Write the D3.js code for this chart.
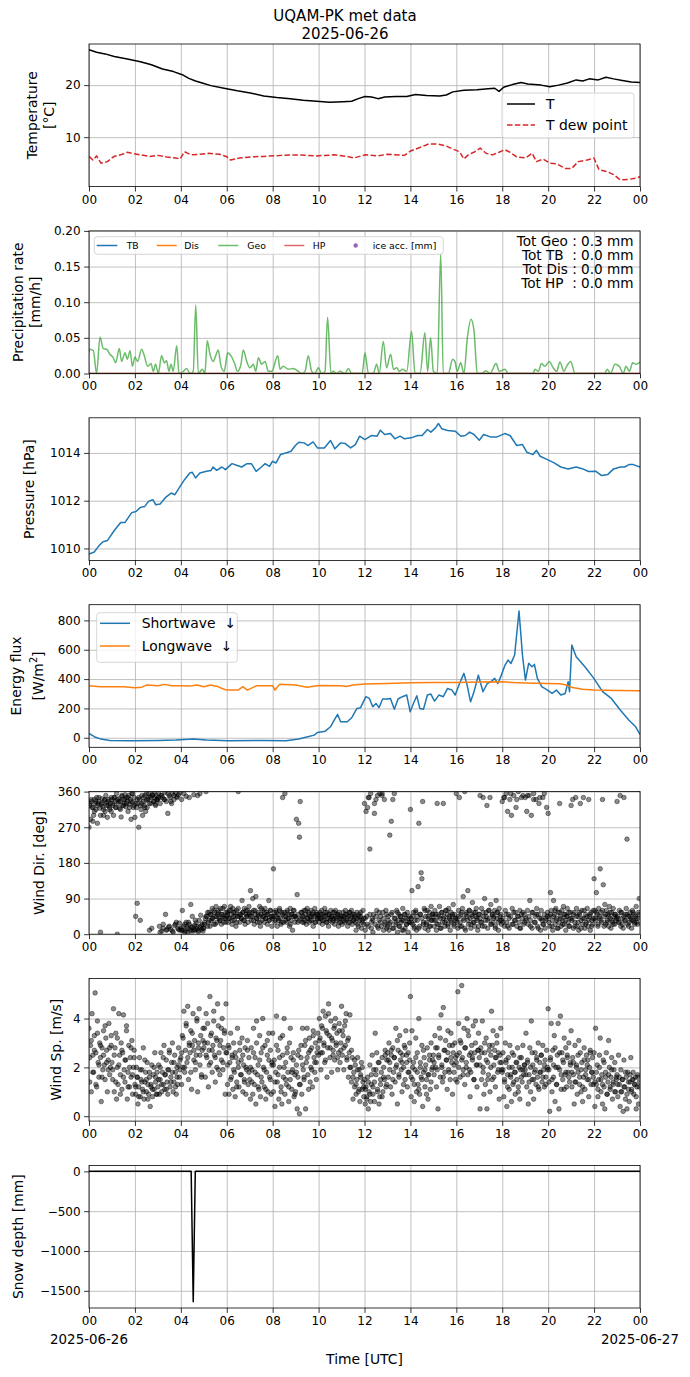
<!DOCTYPE html>
<html><head><meta charset="utf-8">
<script src="https://cdn.jsdelivr.net/npm/d3@7"></script>
<style>
body{margin:0;background:#fff}
svg text{font-family:"DejaVu Sans",sans-serif;fill:#000}
</style></head><body>
<svg id="c" width="690" height="1377"></svg>
<script>
// ---------------- DATA ----------------
const titleLines = ["UQAM-PK met data", "2025-06-26"];
const xTickHours = [0,2,4,6,8,10,12,14,16,18,20,22,24];
const dateLabels = ["2025-06-26", "2025-06-27"];

// Temperature panel
const tempTime = [0,0.33,0.7,1.1,1.67,2.24,2.72,3.2,3.68,4.06,4.35,4.64,4.93,5.31,5.88,6.46,7.03,7.61,8.18,8.76,9.33,9.91,10.48,11.06,11.44,11.73,12.02,12.31,12.59,12.88,13.36,13.84,14.22,14.7,15.28,15.56,15.85,16.33,16.9,17.39,17.67,17.86,18.06,18.44,18.82,19.11,19.69,20.07,20.45,20.84,21.22,21.51,21.79,22.18,22.52,22.85,23.23,23.62,24];
const tempValues = [26.8,26.3,26.0,25.5,25.0,24.5,23.9,23.1,22.6,22.0,21.3,20.8,20.4,19.9,19.4,18.9,18.5,17.9,17.6,17.4,17.1,16.9,16.7,16.8,16.9,17.4,17.8,17.7,17.4,17.7,17.8,17.8,18.2,18.0,17.9,18.1,18.7,19.0,19.1,19.3,19.4,18.8,19.6,20.1,20.5,20.2,20.0,19.7,20.0,20.4,21.0,20.8,21.2,21.0,21.5,21.2,20.9,20.6,20.5];
const dewTime = [0,0.17,0.33,0.52,0.8,1.09,1.38,1.67,1.96,2.24,2.63,3.01,3.39,3.78,3.97,4.16,4.45,4.83,5.21,5.69,5.98,6.17,6.56,7.03,7.61,8.38,9.14,9.91,10.68,11.25,11.54,12.02,12.59,12.98,13.74,14.03,14.41,14.8,15.18,15.56,15.85,16.14,16.33,16.52,16.81,17.04,17.29,17.58,17.86,18.11,18.34,18.63,19.02,19.3,19.49,19.78,20.07,20.36,20.74,21.03,21.31,21.7,21.99,22.22,22.56,22.85,23.14,23.52,23.81,24];
const dewValues = [6.3,5.6,6.4,5.0,5.3,6.3,6.6,7.1,6.8,6.6,6.3,6.5,6.2,6.0,5.8,7.2,6.6,6.7,6.9,6.7,6.3,5.6,6.0,6.2,6.3,6.5,6.6,6.4,6.6,6.3,6.0,6.6,6.4,6.7,6.5,7.4,8.0,8.7,8.7,8.3,7.7,7.2,5.8,6.6,7.2,7.9,6.9,6.6,7.1,7.6,7.1,6.2,6.0,6.9,5.3,5.8,5.0,4.9,4.0,4.0,5.3,5.6,6.0,3.7,3.4,2.8,1.8,1.9,2.1,2.4];
const tempTicks = [10, 20];

// Precipitation panel
const geoTime = [0,0.04,0.19,0.33,0.48,0.62,0.77,0.91,1.06,1.16,1.32,1.42,1.57,1.67,1.79,1.89,2.0,2.12,2.29,2.41,2.55,2.7,2.8,2.9,3.02,3.16,3.28,3.38,3.48,3.57,3.67,3.82,3.92,4.11,4.25,4.4,4.54,4.65,4.76,4.94,5.05,5.15,5.27,5.41,5.52,5.63,5.75,5.89,6.04,6.18,6.33,6.47,6.62,6.72,6.87,7.01,7.16,7.26,7.38,7.52,7.67,7.81,7.96,8.22,8.32,8.46,8.68,8.9,9.12,9.26,9.41,9.55,9.7,9.84,9.99,10.13,10.28,10.39,10.54,10.64,10.79,10.93,11.15,11.3,11.44,11.9,12.02,12.17,12.38,12.53,12.64,12.82,12.96,13.14,13.26,13.4,13.52,13.66,13.84,14.05,14.2,14.42,14.63,14.75,14.88,15.0,15.17,15.32,15.43,15.65,15.84,15.94,16.04,16.19,16.33,16.48,16.64,16.77,16.91,17.1,17.29,17.47,17.73,17.87,18.12,18.26,19.35,19.42,19.57,19.71,19.86,20.05,20.2,20.37,20.51,20.69,20.8,20.98,21.17,22.47,22.57,22.72,22.91,23.1,23.27,23.39,23.54,23.68,23.83,24.0];
const geoValues = [0.03,0.034,0.032,0.0,0.051,0.035,0.034,0.027,0.022,0.015,0.035,0.017,0.029,0.02,0.032,0.01,0.023,0.017,0.034,0.025,0.01,0.014,0.003,0.013,0.0,0.025,0.015,0.018,0.003,0.013,0.003,0.039,0.0,0.003,0.007,0.0,0.003,0.096,0.0,0.006,0.0,0.046,0.027,0.017,0.025,0.033,0.01,0.003,0.029,0.025,0.015,0.003,0.013,0.033,0.017,0.008,0.013,0.003,0.022,0.013,0.017,0.003,0.003,0.025,0.006,0.01,0.006,0.007,0.003,0.0,0.003,0.025,0.003,0.0,0.008,0.0,0.003,0.079,0.0,0.003,0.0,0.003,0.0,0.007,0.0,0.0,0.029,0.0,0.0,0.013,0.0,0.045,0.008,0.027,0.006,0.008,0.003,0.006,0.003,0.059,0.0,0.0,0.057,0.003,0.05,0.003,0.0,0.168,0.0,0.0,0.02,0.017,0.003,0.015,0.0,0.05,0.076,0.06,0.0,0.0,0.004,0.0,0.014,0.003,0.006,0.0,0.0,0.006,0.003,0.014,0.01,0.017,0.009,0.003,0.016,0.003,0.01,0.017,0.0,0.0,0.006,0.0,0.013,0.01,0.0,0.01,0.003,0.015,0.013,0.016];
const zeroTime = [0, 24];
const tbValues = [0, 0];
const disValues = [0, 0];
const hpValues = [0, 0];
const precipTicks = [0, 0.05, 0.10, 0.15, 0.20];
const precipTotals = ["Tot Geo : 0.3 mm", "Tot TB  : 0.0 mm", "Tot Dis : 0.0 mm", "Tot HP  : 0.0 mm"];
const precipLegend = ["TB", "Dis", "Geo", "HP", "ice acc. [mm]"];

// Pressure panel
const presTime = [0,0.23,0.42,0.61,0.8,1.1,1.38,1.57,1.86,2.05,2.24,2.43,2.59,2.78,2.91,3.1,3.35,3.58,3.74,3.97,4.16,4.39,4.5,4.64,4.83,5.12,5.31,5.4,5.56,5.79,5.94,6.23,6.46,6.65,6.88,7.07,7.28,7.51,7.67,7.86,7.99,8.15,8.34,8.57,8.8,8.99,9.14,9.37,9.53,9.76,9.95,10.25,10.52,10.71,10.96,11.16,11.4,11.6,11.79,12.02,12.31,12.55,12.69,12.88,13.13,13.32,13.55,13.74,14.03,14.32,14.51,14.74,14.89,15.09,15.22,15.37,15.62,15.95,16.2,16.39,16.58,16.77,17.0,17.19,17.48,17.77,18.11,18.34,18.63,18.88,19.07,19.34,19.49,19.65,19.97,20.26,20.55,20.87,21.22,21.51,21.76,22.08,22.33,22.6,22.85,23.14,23.33,23.52,23.71,24];
const presValues = [1009.77,1009.85,1010.1,1010.28,1010.33,1010.75,1011.09,1011.09,1011.5,1011.55,1011.72,1011.76,1011.97,1012.04,1011.83,1011.86,1012.15,1012.32,1012.25,1012.6,1012.88,1013.16,1013.19,1012.95,1013.16,1013.23,1013.26,1013.41,1013.27,1013.41,1013.3,1013.55,1013.47,1013.41,1013.55,1013.55,1013.23,1013.41,1013.55,1013.44,1013.65,1013.58,1013.93,1014.0,1014.07,1014.31,1014.45,1014.42,1014.31,1014.46,1014.21,1014.21,1014.52,1014.17,1014.42,1014.39,1014.21,1014.35,1014.7,1014.56,1014.73,1014.7,1014.95,1014.77,1014.81,1014.59,1014.7,1014.59,1014.63,1014.73,1014.73,1014.98,1014.87,1015.05,1015.23,1015.01,1014.94,1014.91,1014.7,1014.73,1014.87,1014.77,1014.53,1014.77,1014.67,1014.67,1014.81,1014.73,1014.31,1014.35,1014.03,1013.93,1014.11,1013.86,1013.72,1013.58,1013.41,1013.33,1013.41,1013.33,1013.22,1013.23,1013.05,1013.1,1013.33,1013.41,1013.41,1013.51,1013.51,1013.41];
const presTicks = [1010, 1012, 1014];

// Energy flux panel
const swTime = [0,0.23,0.52,0.9,1.86,3.0,3.78,4.54,5.12,6.08,7.61,8.57,9.14,9.53,9.81,9.95,10.29,10.52,10.68,10.83,10.96,11.25,11.44,11.67,11.83,12.06,12.21,12.36,12.5,12.63,12.79,12.98,13.13,13.3,13.46,13.65,13.84,13.99,14.13,14.28,14.41,14.57,14.74,14.89,15.05,15.24,15.43,15.62,15.81,15.95,16.14,16.33,16.47,16.62,16.77,16.96,17.16,17.35,17.54,17.67,17.81,17.96,18.11,18.25,18.38,18.54,18.73,18.88,19.01,19.15,19.3,19.4,19.53,19.72,19.97,20.17,20.36,20.55,20.74,20.87,20.93,21.03,21.22,21.6,21.99,22.37,22.75,23.14,23.52,23.81,24];
const swValues = [30,7,-9,-18,-20,-19,-16,-9,-16,-20,-18,-20,-9,7,18,36,45,75,120,159,109,109,136,200,205,280,268,211,234,205,264,264,268,195,264,280,291,177,234,286,200,195,291,298,250,291,280,336,325,291,370,439,359,245,314,427,314,370,386,405,370,427,491,530,507,564,864,564,393,507,484,500,405,348,325,302,325,291,302,382,314,632,552,484,405,314,268,189,120,75,23];
const lwTime = [0,0.5,1.5,2,2.3,2.5,3,3.3,3.6,4,4.4,4.7,5,5.3,5.6,5.8,6,6.5,6.7,6.9,7.3,8,8.1,8.3,9,9.5,10,11,11.2,11.5,12,13,14,15,16,17,18,18.5,19,20,20.5,20.8,21,21.5,22,23,24];
const lwValues = [355,348,348,341,345,359,355,364,355,355,352,359,348,359,350,336,325,325,348,325,355,355,325,364,359,345,356,355,350,359,366,370,375,377,377,380,382,376,373,370,368,360,345,330,326,322,320];
const fluxTicks = [0, 200, 400, 600, 800];
const fluxLegend = ["Shortwave  \u2193", "Longwave  \u2193"];

// Wind direction (deg): samples per hour, one row per hour (main + interleaved readings)
const windDirByHour = [
[270,325,290,335,320,285,300,340,330,315,345,280,330,335,318,5,328,342,322,300,338,310,350,332,295,325,340,315,330,345],
[340,325,300,345,335,320,355,0,330,342,318,336,296,348,325,340,330,352,322,345,335,310,350,328,340,290,355,333,320,345],
[295,45,320,78,330,270,340,35,315,330,300,345,325,350,310,338,320,342,355,10,348,330,15,352,335,358,345,328,350,340],
[340,355,20,330,350,8,345,25,340,358,50,335,12,305,18,350,345,12,330,355,5,340,22,358,30,348,15,352,28,10],
[15,340,60,10,355,25,8,348,20,5,30,345,12,75,18,45,8,352,22,10,28,14,350,6,35,18,48,12,25,8],
[15,25,40,360,45,20,30,55,20,50,35,65,40,25,55,45,70,30,50,60,40,35,65,25,50,45,30,70,40,55],
[45,55,30,60,40,70,50,25,65,45,35,55,20,60,45,360,45,30,50,40,85,55,35,65,25,50,45,60,30,70],
[55,110,35,45,90,60,25,50,95,40,30,55,45,70,20,50,35,60,45,30,65,40,55,25,50,85,35,60,45,20],
[40,165,55,30,60,45,20,50,35,65,40,25,55,345,30,55,355,45,30,60,40,50,20,65,35,50,10,45,60,30],
[45,290,100,30,280,245,335,40,55,30,45,60,35,50,25,65,40,55,30,45,60,35,50,20,45,65,30,55,40,50],
[45,30,55,40,60,25,50,35,65,45,30,55,40,20,50,35,60,45,30,55,40,25,60,45,35,50,20,55,40,30],
[40,25,55,45,30,60,35,50,20,45,55,30,40,60,25,50,35,45,30,10,55,40,20,50,35,45,15,30,60,25],
[330,10,310,45,320,20,345,215,355,30,40,5,50,305,25,340,60,350,15,35,355,45,20,350,55,10,340,30,60,15],
[20,45,10,250,30,285,55,340,15,355,40,25,60,5,35,50,20,45,30,10,65,35,50,15,40,25,55,5,30,45],
[315,40,110,25,55,15,35,60,10,45,120,280,20,50,155,140,335,30,65,15,45,25,60,10,40,55,20,70,35,50],
[45,20,60,35,10,330,50,25,70,40,15,55,30,330,45,20,60,35,50,25,65,40,10,55,30,45,75,20,50,35],
[355,40,15,60,345,30,50,20,65,95,35,360,10,55,45,110,25,60,40,15,50,80,30,55,20,45,65,35,10,50],
[50,350,30,65,20,345,45,90,35,55,325,15,60,40,345,75,25,50,30,45,60,20,85,40,55,10,65,35,50,25],
[335,40,345,20,60,355,30,310,50,15,340,45,300,65,25,350,35,55,320,20,45,360,30,60,15,345,40,55,25,50],
[345,40,310,60,25,350,85,35,300,15,55,355,30,45,340,65,20,50,330,40,10,60,35,345,25,50,15,40,320,55],
[305,45,20,105,60,35,10,85,50,25,65,40,15,55,30,330,45,20,60,35,70,25,50,10,45,65,30,55,20,40],
[325,40,340,15,55,30,345,65,20,45,10,50,330,35,60,25,345,40,15,50,30,65,20,340,45,10,55,35,25,60],
[140,60,35,105,50,20,65,40,165,55,30,340,125,45,75,25,60,35,50,20,70,40,15,55,30,65,45,25,50,35],
[335,45,30,60,350,20,55,40,15,345,35,50,65,240,25,45,30,55,40,15,60,35,50,25,45,70,30,40,55,90]
];
const windDirExtraByHour = [
[330,340,320,310,335,325,345,300,330,315,340,325,335,320,310],
[330,345,320,340,335,315,350,325,340,330,345,320,335,355,325],
[330,340,345,325,350,335,320,355,340,330,345,350,335,325,340],
[345,5,350,15,340,10,355,20,335,8,350,25,345,12,358],
[10,20,5,30,15,25,8,18,12,35,20,10,355,22,15],
[30,45,55,35,50,40,60,25,45,55,35,50,65,40,30],
[50,40,60,35,55,45,30,65,50,40,55,35,60,45,50],
[45,55,35,60,40,50,30,65,45,55,40,50,35,60,45],
[45,35,55,40,60,30,50,45,35,55,40,25,50,60,45],
[40,50,35,55,45,30,60,40,50,35,45,55,30,50,40],
[40,50,35,45,55,30,50,40,45,35,55,40,50,30,45],
[45,35,50,40,30,55,45,35,50,40,25,45,55,35,40],
[40,25,345,50,15,35,330,45,20,55,30,355,40,25,50],
[35,25,50,15,40,30,55,20,45,35,10,50,25,40,30],
[30,45,20,55,35,15,50,40,25,60,30,45,20,35,50],
[35,50,25,45,15,55,40,30,60,20,45,35,50,25,40],
[30,45,20,55,40,15,50,35,60,25,45,30,55,40,20],
[40,30,55,20,45,35,60,25,50,40,15,55,30,45,35],
[30,345,50,20,40,355,25,55,35,340,45,15,50,350,30],
[35,350,45,20,55,340,30,50,15,345,40,25,355,35,45],
[30,50,20,45,60,35,15,55,40,25,50,35,45,20,55],
[35,50,20,45,30,55,15,40,60,25,45,35,50,20,40],
[40,55,25,45,35,60,20,50,30,45,55,35,25,50,40],
[40,30,55,25,45,35,50,20,45,35,55,30,40,25,50]
];
const windDirTicks = [0, 90, 180, 270, 360];

// Wind speed (m/s): samples per hour, one row per hour (main + interleaved readings)
const windSpByHour = [
[3.6,1.4,2.9,1.0,4.2,2.5,1.8,3.3,5.05,2.6,1.2,3.9,2.2,1.6,3.0,2.4,0.6,2.8,1.9,3.5,2.1,1.5,3.2,2.7,1.0,2.3,3.8,1.7,2.0,2.9],
[2.2,1.5,4.4,1.0,2.8,3.4,0.7,2.0,1.3,4.2,2.5,1.7,3.0,1.1,2.6,4.15,1.9,1.4,2.3,3.7,0.7,1.8,2.9,1.2,2.4,1.6,3.1,0.9,2.0,2.7],
[1.3,0.9,2.0,1.6,0.5,1.2,2.4,0.8,1.5,1.9,1.1,2.8,0.7,1.4,1.8,1.0,2.2,1.3,0.9,1.6,0.4,1.2,2.1,0.8,1.7,1.1,2.6,1.4,0.9,1.8],
[1.2,2.1,0.9,1.5,2.6,1.0,1.8,1.3,2.9,1.1,1.7,2.3,1.4,0.9,1.9,2.7,1.2,1.6,2.2,3.0,1.0,1.4,2.5,1.8,0.9,2.0,1.3,2.8,1.6,2.3],
[2.4,1.3,3.3,2.0,4.3,1.8,2.7,3.8,2.2,4.5,1.5,3.0,2.6,3.5,1.1,2.9,4.2,2.3,3.1,1.9,2.5,3.9,1.0,2.8,4.4,2.1,3.3,1.6,2.7,3.6],
[2.8,3.6,1.6,4.2,2.4,3.0,1.2,2.7,4.9,2.2,3.4,1.8,2.9,3.9,2.5,1.4,3.2,2.0,4.6,3.7,2.6,1.7,3.1,2.3,4.0,1.9,2.8,3.5,0.9,4.6],
[2.6,1.3,2.9,0.9,2.2,3.4,1.6,2.5,1.1,3.0,1.8,0.8,2.4,1.4,3.6,2.0,1.2,2.7,1.7,2.3,3.2,1.0,2.1,1.5,2.8,0.9,1.9,3.1,1.3,2.4],
[1.5,0.7,2.8,1.9,0.9,3.6,1.3,2.4,0.5,3.9,1.7,2.1,1.1,3.3,0.8,2.6,1.4,4.0,2.0,1.2,2.9,0.7,1.8,3.1,1.0,2.3,1.6,2.7,0.9,2.2],
[3.4,1.0,2.3,0.4,1.8,4.1,1.4,2.7,0.7,2.0,3.2,1.2,0.5,2.5,1.6,4.0,0.9,2.2,1.3,2.8,1.8,0.6,3.0,1.5,2.4,1.1,1.9,2.6,0.8,1.7],
[1.0,2.1,0.3,1.6,2.7,0.1,1.3,2.4,0.9,3.6,1.9,1.5,2.9,0.3,2.2,3.6,1.7,2.6,3.2,1.4,2.0,2.8,1.2,3.5,2.4,1.8,3.0,2.2,2.6,3.4],
[2.5,4.0,3.2,1.9,3.7,2.6,4.3,3.0,2.2,4.1,3.5,1.6,2.8,4.6,3.3,2.4,3.9,1.8,3.1,2.7,3.6,2.3,4.0,2.9,3.4,1.9,2.6,3.8,2.2,3.0],
[4.5,2.5,3.3,1.9,3.7,2.9,4.2,2.3,3.1,1.6,2.6,4.15,2.0,1.4,2.4,0.7,1.8,1.2,2.1,0.9,1.5,2.4,1.0,1.9,0.6,1.6,2.2,1.1,1.4,0.8],
[1.5,0.5,1.2,0.8,1.6,0.3,1.0,2.1,0.6,1.3,2.5,0.9,1.9,1.4,3.4,1.7,2.6,1.1,2.2,0.5,0.8,1.3,1.8,2.4,1.0,2.0,1.5,2.7,1.2,2.3],
[2.6,1.6,3.0,2.2,1.2,2.5,0.9,2.8,1.8,2.4,1.4,3.6,2.1,0.5,2.7,1.6,3.3,2.3,1.9,1.0,2.5,2.0,2.9,1.5,3.5,2.2,1.2,2.6,1.8,3.0],
[4.9,0.8,3.5,1.5,2.2,0.6,1.9,3.2,1.0,2.6,1.3,4.0,0.9,2.0,1.6,2.9,0.4,1.8,2.4,1.2,2.1,1.5,2.8,0.7,1.7,2.5,1.1,3.0,1.9,2.3],
[2.5,1.7,3.3,2.0,1.2,2.8,0.3,2.4,3.6,1.6,4.15,2.1,1.4,4.45,2.7,1.8,3.1,2.3,1.1,2.6,1.9,2.9,1.5,3.4,2.2,0.9,2.6,1.8,3.0,2.4],
[2.2,1.4,5.1,3.8,2.6,1.6,3.0,5.35,2.4,1.9,3.6,1.3,2.8,2.0,4.0,1.7,3.3,2.5,0.8,1.8,2.9,2.3,3.7,1.5,2.6,3.9,2.1,1.2,2.7,3.4],
[2.4,0.3,2.8,1.5,3.9,2.0,0.9,2.6,1.3,3.2,0.3,2.2,1.7,2.9,1.0,2.5,4.3,1.5,3.5,2.1,2.7,1.2,2.4,3.0,1.8,2.6,0.7,2.2,3.6,1.9],
[1.8,2.6,0.8,1.4,3.0,2.2,0.4,1.7,2.4,1.1,2.9,1.6,0.6,2.0,1.3,2.5,1.8,0.9,2.2,1.5,2.8,1.2,2.0,0.7,1.9,2.4,1.4,2.9,1.7,2.1],
[1.9,3.4,1.2,2.3,0.5,1.7,2.8,1.0,3.9,1.5,2.1,0.7,1.8,2.6,1.3,2.4,1.6,3.0,1.1,2.2,1.8,2.5,1.4,2.9,1.9,1.2,2.3,1.6,2.7,2.0],
[4.4,1.4,0.2,2.3,3.8,1.0,2.7,1.6,3.3,0.6,2.0,1.3,2.5,3.8,0.3,1.9,4.1,1.1,2.6,1.5,2.2,3.2,1.7,2.8,1.2,2.4,1.8,3.0,1.4,2.1],
[3.5,1.2,2.4,1.7,0.5,2.9,1.4,2.1,0.9,1.8,3.1,1.3,2.6,1.0,2.2,0.6,1.6,2.8,1.1,1.9,2.5,1.5,2.3,0.8,2.0,2.7,1.3,1.8,2.4,1.6],
[2.6,0.4,3.6,1.3,2.1,0.8,1.5,2.5,3.2,1.0,1.7,0.5,2.3,1.2,0.3,1.8,2.6,0.9,1.4,3.1,2.0,1.1,1.6,2.4,0.7,1.3,1.9,2.2,1.0,1.5],
[1.7,0.8,2.5,1.3,0.4,1.9,1.0,1.5,0.2,2.3,1.2,0.7,1.6,0.3,1.8,1.1,0.6,1.4,2.4,1.0,1.5,1.8,0.9,1.3,1.6,0.3,1.2,1.7,0.5,1.4]
];
const windSpExtraByHour = [
[2.4,3.1,1.8,2.7,1.3,3.4,2.1,2.9,1.6,2.5,3.7,2.2,1.9,2.8,3.3],
[1.9,2.5,1.4,3.2,2.1,0.9,2.7,1.6,2.3,3.5,1.2,2.0,2.8,1.7,2.4],
[1.2,1.6,0.8,1.9,1.4,1.0,2.3,1.5,0.7,1.8,1.3,1.1,2.0,1.6,0.9],
[1.5,2.0,1.3,2.4,1.7,1.1,1.9,2.6,1.4,1.8,2.2,1.2,1.6,2.1,1.9],
[2.6,3.2,2.0,3.7,2.4,2.9,1.8,3.4,2.7,2.2,4.0,3.0,2.5,1.7,3.1],
[3.0,2.5,3.8,2.1,3.3,2.7,4.3,2.4,3.1,1.9,2.9,3.6,2.2,3.4,2.6],
[2.1,2.8,1.5,2.4,1.9,2.6,1.2,2.2,3.0,1.7,2.5,1.4,2.0,2.7,1.8],
[2.0,1.4,2.6,1.8,3.0,1.2,2.3,1.6,2.8,1.9,1.1,2.5,3.4,1.5,2.1],
[2.1,1.4,2.9,1.7,2.4,1.0,3.3,2.0,1.5,2.6,1.2,3.6,1.8,2.3,0.9],
[1.8,2.5,1.3,2.9,2.1,1.6,3.1,2.4,1.1,2.7,1.9,3.3,2.2,1.5,2.8],
[3.1,2.6,3.6,2.9,2.3,3.4,4.2,2.8,3.2,2.5,3.7,3.0,2.4,3.5,2.7],
[3.5,2.8,3.9,2.4,3.2,2.0,2.7,1.6,2.3,1.3,1.9,1.1,1.7,2.0,1.2],
[1.1,0.7,1.4,0.9,1.7,1.2,0.6,1.9,1.0,2.2,1.5,0.8,1.6,2.5,1.3],
[2.3,1.9,2.7,1.5,2.4,2.0,3.1,1.7,2.6,2.2,1.3,2.8,2.5,1.8,2.3],
[1.6,2.0,1.3,2.4,1.8,1.1,2.2,1.5,2.7,1.9,0.9,1.7,2.3,1.4,2.0],
[2.2,2.8,1.9,2.5,3.2,2.0,1.6,2.7,2.3,3.5,1.8,2.4,2.9,2.1,1.5],
[2.5,2.0,3.1,2.3,1.7,2.8,2.2,3.5,1.9,2.6,2.4,1.5,3.0,2.1,2.7],
[2.1,2.6,1.8,3.0,2.3,1.5,2.7,2.0,2.9,1.6,2.4,3.3,1.9,2.5,2.2],
[1.9,1.5,2.3,1.2,2.0,1.7,2.6,1.4,1.8,2.2,1.0,2.4,1.6,1.9,2.1],
[1.7,2.2,1.4,2.0,2.6,1.5,1.9,2.3,1.2,1.8,2.5,1.6,2.1,1.3,1.9],
[1.9,2.4,1.5,2.1,2.8,1.3,2.0,2.6,1.7,2.3,1.1,1.8,2.5,1.6,2.2],
[1.8,2.2,1.4,2.0,2.5,1.6,1.9,1.2,2.3,1.7,2.1,1.5,2.6,1.8,1.3],
[1.4,1.8,1.1,2.0,1.5,1.3,2.2,1.6,0.9,1.7,1.2,1.9,1.4,1.0,1.6],
[1.3,1.6,1.0,1.5,1.2,1.8,0.9,1.4,1.7,1.1,1.5,1.3,0.8,1.6,1.2]
];
const windSpTicks = [0, 2, 4];

// Snow depth panel
const snowTime = [0, 4.45, 4.54, 4.63, 24];
const snowValues = [0, 0, -1637, 0, 0];
const snowTicks = [-1500, -1000, -500, 0];

// ---------------- DRAWING ----------------
const C = {blue:"#1f77b4", orange:"#ff7f0e", green:"#2ca02c", red:"#d62728", purple:"#9467bd", grid:"#b0b0b0"};
const TICK_FS = 12, LABEL_FS = 13.9;
const svg = d3.select("#c");
const X0 = 89, X1 = 640, PT = 44, PSTEP = 186.9, PH = 142.6;
const x = d3.scaleLinear().domain([0, 24]).range([X0, X1]);
const xFmt = h => h === 24 ? "00" : d3.format("02d")(h);
const pairs = (t, v) => d3.range(Math.min(t.length, v.length)).map(i => [t[i], v[i]]);
const byHour = (rows, off) => rows.flatMap((row, h) => row.map((v, k) => [h + (k + off) / row.length, v]));

function panel(i, yDomain, yTicks) {
  const top = PT + i * PSTEP, bot = top + PH;
  const y = d3.scaleLinear().domain(yDomain).range([bot, top]);
  const id = "clip" + i;
  svg.append("clipPath").attr("id", id).append("rect")
    .attr("x", X0).attr("y", top).attr("width", X1 - X0).attr("height", PH);
  const gx = svg.append("g").attr("transform", `translate(0,${bot})`)
    .call(d3.axisBottom(x).tickValues(xTickHours).tickSize(-PH).tickFormat(""));
  const gy = svg.append("g").attr("transform", `translate(${X0},0)`)
    .call(d3.axisLeft(y).tickValues(yTicks).tickSize(-(X1 - X0)).tickFormat(""));
  [gx, gy].forEach(g => { g.select(".domain").remove(); g.selectAll("line").attr("stroke", C.grid).attr("stroke-width", 0.8); });
  const data = svg.append("g").attr("clip-path", `url(#${id})`);
  return {i, y, top, bot, data};
}

function axes(p, yTicks, yFmt) {
  const ax = svg.append("g").attr("transform", `translate(0,${p.bot})`)
    .call(d3.axisBottom(x).tickValues(xTickHours).tickFormat(xFmt).tickSize(4.9).tickPadding(3.5));
  const ay = svg.append("g").attr("transform", `translate(${X0},0)`)
    .call(d3.axisLeft(p.y).tickValues(yTicks).tickFormat(yFmt).tickSize(4.9).tickPadding(3.5));
  [ax, ay].forEach(g => {
    g.attr("font-family", null).attr("font-size", null);
    g.select(".domain").remove();
    g.selectAll("line").attr("stroke", "#000").attr("stroke-width", 0.8);
    g.selectAll("text").attr("font-size", TICK_FS);
  });
  svg.append("rect").attr("x", X0).attr("y", p.top).attr("width", X1 - X0).attr("height", PH)
    .attr("fill", "none").attr("stroke", "#000").attr("stroke-width", 0.8);
}

function ylabel(p, lines, xs) {
  const cy = (p.top + p.bot) / 2;
  lines.forEach((ln, k) => {
    const t = svg.append("text").attr("transform", `translate(${xs[k]},${cy}) rotate(-90)`)
      .attr("text-anchor", "middle").attr("dominant-baseline", "central").attr("font-size", LABEL_FS);
    if (typeof ln === "string") t.text(ln);
    else ln(t);
  });
}

function line(p, d, color, width, opts = {}) {
  const gen = d3.line().x(v => x(v[0])).y(v => p.y(v[1]));
  if (opts.curve) gen.curve(opts.curve);
  const path = p.data.append("path").datum(d).attr("d", gen).attr("fill", "none")
    .attr("stroke", color).attr("stroke-width", width).attr("stroke-linejoin", "round");
  if (opts.dash) path.attr("stroke-dasharray", opts.dash);
  if (opts.opacity) path.attr("stroke-opacity", opts.opacity);
  return path;
}

function scatter(p, pts) {
  p.data.append("g").selectAll("circle").data(pts).join("circle")
    .attr("cx", d => x(d[0])).attr("cy", d => p.y(d[1])).attr("r", 2.3)
    .attr("fill", "#000").attr("fill-opacity", 0.45)
    .attr("stroke", "#000").attr("stroke-opacity", 0.45).attr("stroke-width", 0.9);
}

function legendBox(x0, y0, w, h) {
  svg.append("rect").attr("x", x0).attr("y", y0).attr("width", w).attr("height", h).attr("rx", 3)
    .attr("fill", "#fff").attr("fill-opacity", 0.8).attr("stroke", "#cccccc").attr("stroke-width", 0.8);
}

// Title (figure-centred)
titleLines.forEach((t, k) => svg.append("text").attr("x", 345).attr("y", 16 + k * 17.5)
  .attr("text-anchor", "middle").attr("dominant-baseline", "central").attr("font-size", 15).text(t));

// Panel 1: temperature
{
  const p = panel(0, [0.5, 27.9], tempTicks);
  line(p, pairs(tempTime, tempValues), "#000", 1.5);
  line(p, pairs(dewTime, dewValues), C.red, 1.5, {dash: "5.5,2.4"});
  axes(p, tempTicks, d3.format("d"));
  ylabel(p, ["Temperature", "[°C]"], [31.7, 48.5]);
  legendBox(502, 93, 132, 45);
  svg.append("line").attr("x1", 507).attr("x2", 535).attr("y1", 104).attr("y2", 104).attr("stroke", "#000").attr("stroke-width", 1.5);
  svg.append("line").attr("x1", 507).attr("x2", 535).attr("y1", 125).attr("y2", 125).attr("stroke", C.red).attr("stroke-width", 1.5).attr("stroke-dasharray", "5.5,2.4");
  svg.append("text").attr("x", 546).attr("y", 104).attr("dominant-baseline", "central").attr("font-size", LABEL_FS).text("T");
  svg.append("text").attr("x", 546).attr("y", 125).attr("dominant-baseline", "central").attr("font-size", LABEL_FS).text("T dew point");
}

// Panel 2: precipitation
{
  const p = panel(1, [0, 0.2], precipTicks);
  line(p, pairs(zeroTime, tbValues), C.blue, 1.5, {opacity: 0.7});
  line(p, pairs(zeroTime, disValues), C.orange, 1.5, {opacity: 0.7});
  line(p, pairs(geoTime, geoValues), C.green, 1.5, {opacity: 0.7, curve: d3.curveMonotoneX});
  line(p, pairs(zeroTime, hpValues), C.red, 1.5, {opacity: 0.7});
  axes(p, precipTicks, d3.format(".2f"));
  ylabel(p, ["Precipitation rate", "[mm/h]"], [17.6, 35.2]);
  precipTotals.forEach((t, k) => svg.append("text").attr("x", 633.5).attr("y", 240.5 + k * 14)
    .attr("text-anchor", "end").attr("dominant-baseline", "central").attr("font-size", 13.6)
    .attr("xml:space", "preserve").style("white-space", "pre").text(t));
  legendBox(94.3, 236.7, 349, 17.6);
  const ly = 245.5;
  const cols = [C.blue, C.orange, C.green, C.red];
  const lx = [[96.7, 117.3, 126.7], [156.7, 176.7, 184.3], [218.3, 238.3, 247.3], [284.3, 304.3, 312.7]];
  lx.forEach((a, k) => {
    svg.append("line").attr("x1", a[0]).attr("x2", a[1]).attr("y1", ly).attr("y2", ly)
      .attr("stroke", cols[k]).attr("stroke-width", 1.5).attr("stroke-opacity", k >= 2 ? 0.7 : 1);
    svg.append("text").attr("x", a[2]).attr("y", ly).attr("dominant-baseline", "central").attr("font-size", 9.3).text(precipLegend[k]);
  });
  svg.append("circle").attr("cx", 355.7).attr("cy", ly).attr("r", 2.2).attr("fill", C.purple);
  svg.append("text").attr("x", 372.7).attr("y", ly).attr("dominant-baseline", "central").attr("font-size", 9.3).text(precipLegend[4]);
}

// Panel 3: pressure
{
  const p = panel(2, [1009.5, 1015.47], presTicks);
  line(p, pairs(presTime, presValues), C.blue, 1.5);
  axes(p, presTicks, d3.format("d"));
  ylabel(p, ["Pressure [hPa]"], [28.6]);
}

// Panel 4: energy flux
{
  const p = panel(3, [-65, 907], fluxTicks);
  line(p, pairs(swTime, swValues), C.blue, 1.5);
  line(p, pairs(lwTime, lwValues), C.orange, 1.5);
  axes(p, fluxTicks, d3.format("d"));
  ylabel(p, ["Energy flux", t => {
    t.append("tspan").text("[W/m");
    t.append("tspan").attr("font-size", 9.7).attr("dy", -5).text("2");
    t.append("tspan").attr("dy", 5).text("]");
  }], [15.8, 37.5]);
  legendBox(96.7, 612.7, 140.6, 49.6);
  [[623.3, C.blue], [646, C.orange]].forEach((r, k) => {
    svg.append("line").attr("x1", 100).attr("x2", 130).attr("y1", r[0]).attr("y2", r[0]).attr("stroke", r[1]).attr("stroke-width", 1.5);
    svg.append("text").attr("x", 141.7).attr("y", r[0]).attr("dominant-baseline", "central")
      .attr("font-size", LABEL_FS).attr("xml:space", "preserve").style("white-space", "pre").text(fluxLegend[k]);
  });
}

// Panel 5: wind direction
{
  const p = panel(4, [0, 360], windDirTicks);
  scatter(p, byHour(windDirByHour, 0).concat(byHour(windDirExtraByHour, 0.5)));
  axes(p, windDirTicks, d3.format("d"));
  ylabel(p, ["Wind Dir. [deg]"], [38.8]);
}

// Panel 6: wind speed
{
  const p = panel(5, [-0.2, 5.64], windSpTicks);
  scatter(p, byHour(windSpByHour, 0).concat(byHour(windSpExtraByHour, 0.5)));
  axes(p, windSpTicks, d3.format("d"));
  ylabel(p, ["Wind Sp. [m/s]"], [56.4]);
}

// Panel 7: snow depth
{
  const p = panel(6, [-1716, 75], snowTicks);
  line(p, pairs(snowTime, snowValues), "#000", 1.5);
  axes(p, snowTicks, d3.format("d"));
  ylabel(p, ["Snow depth [mm]"], [17.6]);
  [0, 24].forEach((h, k) => svg.append("text").attr("x", x(h)).attr("y", p.bot + 31.5)
    .attr("text-anchor", "middle").attr("dominant-baseline", "central").attr("font-size", 13.4).text(dateLabels[k]));
  svg.append("text").attr("x", (X0 + X1) / 2).attr("y", p.bot + 51).attr("text-anchor", "middle")
    .attr("dominant-baseline", "central").attr("font-size", LABEL_FS).text("Time [UTC]");
}
</script>
</body></html>
